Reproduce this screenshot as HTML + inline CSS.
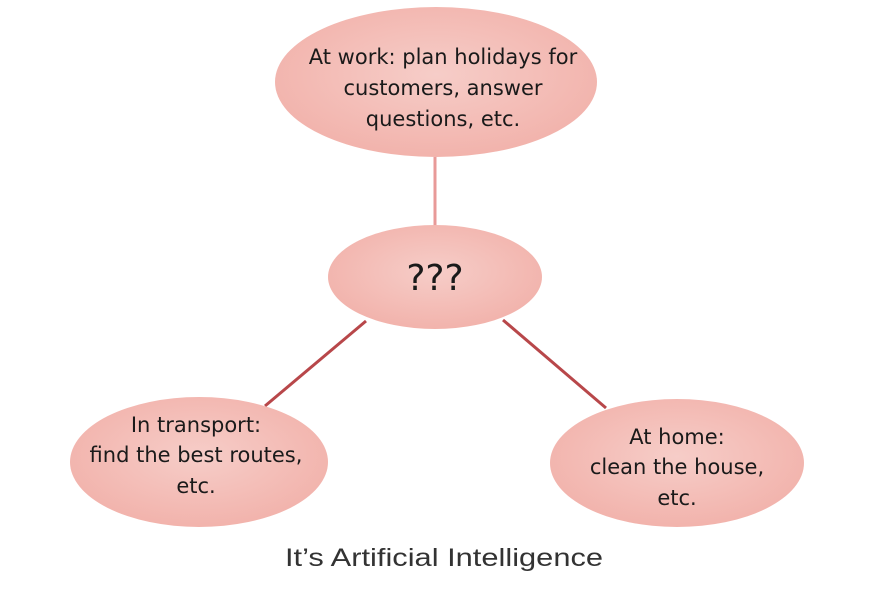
<!DOCTYPE html>
<html><head><style>body{margin:0;background:#fff}</style></head><body>
<svg width="885" height="588" viewBox="0 0 885 588" xmlns="http://www.w3.org/2000/svg" font-family="'DejaVu Sans','Liberation Sans',sans-serif">
<defs>
<radialGradient id="g" cx="50%" cy="45%" r="55%"><stop offset="0" stop-color="#f6cdc8"/><stop offset="1" stop-color="#f2b3ac"/></radialGradient>
</defs>
<line x1="435" y1="157" x2="435" y2="230" stroke="#e89a98" stroke-width="3"/>
<line x1="366" y1="321" x2="265" y2="406" stroke="#b8474a" stroke-width="3"/>
<line x1="503" y1="320" x2="606" y2="408" stroke="#b8474a" stroke-width="3"/>
<ellipse cx="436" cy="82" rx="161" ry="75" fill="url(#g)"/>
<ellipse cx="435" cy="277" rx="107" ry="52" fill="url(#g)"/>
<ellipse cx="199" cy="462" rx="129" ry="65" fill="url(#g)"/>
<ellipse cx="677" cy="463" rx="127" ry="64" fill="url(#g)"/>
<g fill="#1a1a1a" font-size="21" text-anchor="middle">
<text x="443" y="64">At work: plan holidays for</text>
<text x="443" y="95">customers, answer</text>
<text x="443" y="126">questions, etc.</text>
<text x="435" y="290" font-size="36">???</text>
<text x="196" y="432">In transport:</text>
<text x="196" y="462">find the best routes,</text>
<text x="196" y="493">etc.</text>
<text x="677" y="444">At home:</text>
<text x="677" y="474">clean the house,</text>
<text x="677" y="505">etc.</text>
<text x="444" y="566" font-size="25" fill="#333" font-family="'Liberation Sans Narrow','Liberation Sans',sans-serif" textLength="318" lengthAdjust="spacingAndGlyphs">It’s Artificial Intelligence</text>
</g>
</svg>
</body></html>
